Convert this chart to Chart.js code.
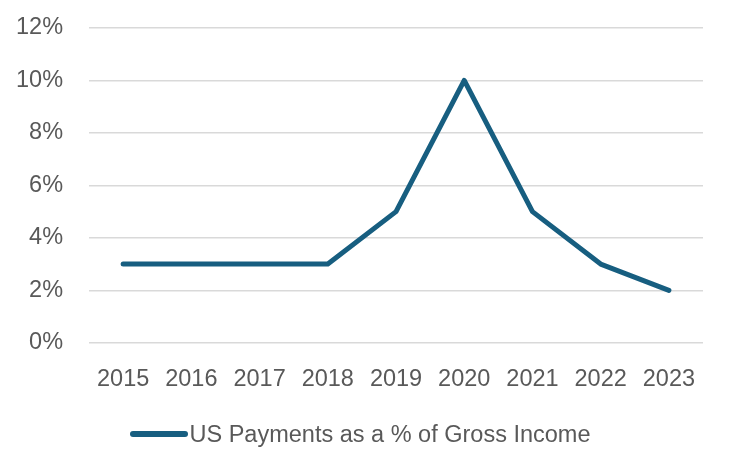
<!DOCTYPE html>
<html lang="en">
<head>
    <meta charset="UTF-8">
    <title>US Payments as a % of Gross Income</title>
    <script src="https://cdn.jsdelivr.net/npm/chart.js"></script>
    <style>
        html, body { margin: 0; padding: 0; background: #fff; }
        #wrap { position: relative; width: 730px; height: 469px; }
        #legend {
            position: absolute; left: 0; right: 10px; top: 420px;
            text-align: center;
            font-family: "Liberation Sans", Arial, sans-serif;
            font-size: 23.5px; color: #595959; line-height: 28px;
        }
        #legend .swatch {
            display: inline-block; width: 58px; height: 6px; border-radius: 3px;
            background: #175e80; vertical-align: middle; margin-right: 2px;
            position: relative; top: -2px;
        }
    </style>
</head>
<body>
    <div id="wrap">
        <canvas id="paymentsChart"></canvas>
        <div id="legend"></div>
    </div>

    <script>
        const years = ['2015', '2016', '2017', '2018', '2019', '2020', '2021', '2022', '2023'];
        const paymentsPct = [3, 3, 3, 3, 5, 10, 5, 3, 2];
        const yTicks = [0, 2, 4, 6, 8, 10, 12];
        const seriesName = 'US Payments as a % of Gross Income';

        const lineColor = '#175e80';
        const textColor = '#595959';
        const font = { family: '"Liberation Sans", Arial, sans-serif', size: 23.5 };

        // the tick padding would otherwise also be reserved above/beside the plot
        const noEdgePadding = axis => {
            axis.paddingTop = 0;
            axis.paddingBottom = 0;
            axis.paddingLeft = 0;
            axis.paddingRight = 0;
        };

        const ctx = document.getElementById('paymentsChart').getContext('2d');
        new Chart(ctx, {
            type: 'line',
            data: {
                labels: years,
                datasets: [{
                    label: seriesName,
                    data: paymentsPct,
                    borderColor: lineColor,
                    backgroundColor: lineColor,
                    borderWidth: 5,
                    pointRadius: 0,
                    tension: 0,
                    borderJoinStyle: 'round',
                    borderCapStyle: 'round'
                }]
            },
            options: {
                responsive: true,
                maintainAspectRatio: false,
                animation: false,
                layout: { padding: { left: -10, right: 27, top: 28, bottom: 60 } },
                scales: {
                    x: {
                        offset: true,
                        afterFit: noEdgePadding,
                        grid: { display: false },
                        border: { display: false },
                        ticks: { color: textColor, font: font, padding: 15, maxRotation: 0 }
                    },
                    y: {
                        min: yTicks[0],
                        max: yTicks[yTicks.length - 1],
                        afterBuildTicks: axis => { axis.ticks = yTicks.map(v => ({ value: v })); },
                        afterFit: noEdgePadding,
                        grid: { color: '#d9d9d9', lineWidth: 1.5, drawTicks: false },
                        border: { display: false },
                        ticks: {
                            color: textColor,
                            font: font,
                            padding: 26,
                            callback: v => v + '%'
                        }
                    }
                },
                plugins: {
                    legend: { display: false },
                    tooltip: { enabled: false }
                }
            }
        });

        // legend line + label under the chart
        document.getElementById('legend').innerHTML =
            '<span class="swatch"></span>' + seriesName;
    </script>
</body>
</html>
